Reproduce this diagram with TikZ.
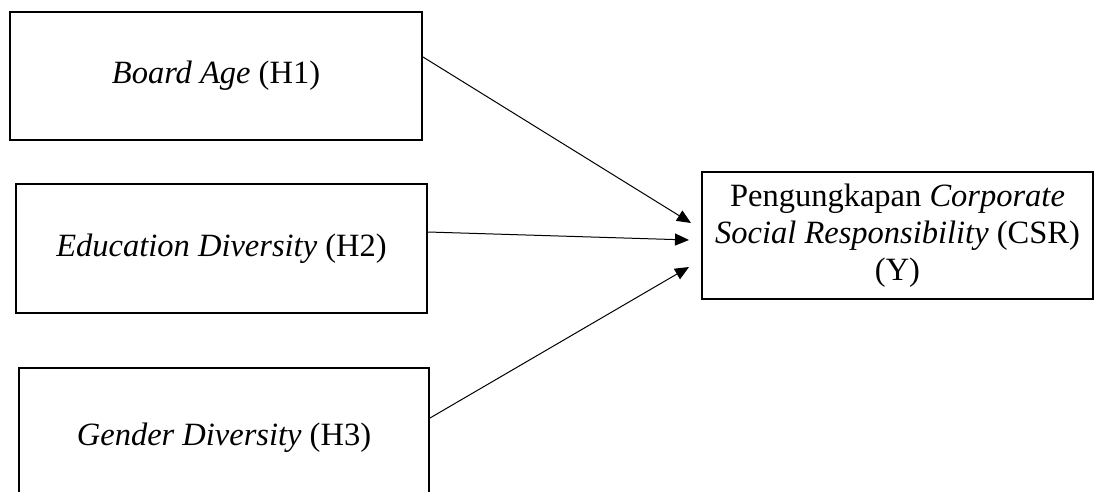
\documentclass[tikz,border=0pt]{standalone}
\usepackage{fontspec}
\setmainfont{Liberation Serif}
\usetikzlibrary{arrows.meta}
\begin{document}
\begin{tikzpicture}[x=1pt,y=-1pt,
  box/.style={draw=black,line width=2pt,inner sep=0pt,align=center,
    font=\fontsize{32.5}{37}\selectfont},
  link/.style={line width=1pt,-{Triangle[length=14pt,width=12pt]}}]
\useasboundingbox (0,0) rectangle (1106,492);
\node[box,minimum width=412pt,minimum height=128pt] (b1) at (216,76) {\textit{Board Age} (H1)};
\node[box,minimum width=411pt,minimum height=129pt] (b2) at (221.5,248.5) {\textit{Education Diversity} (H2)};
\node[box,minimum width=410pt,minimum height=140pt] (b3) at (224,438) {\textit{Gender Diversity} (H3)};
\node[box,minimum width=391pt,minimum height=127pt] (y) at (897.5,235.5) {Pengungkapan \textit{Corporate}\\\textit{Social Responsibility} (CSR)\\(Y)};
\coordinate (t1) at ([xshift=-10pt,yshift=12.5pt]y.west);
\coordinate (t2) at ([xshift=-12pt,yshift=-4.5pt]y.west);
\coordinate (t3) at ([xshift=-12pt,yshift=-31.5pt]y.west);
\draw[link] ([yshift=19pt]b1.east) -- (t1);
\draw[link] ([yshift=16.5pt]b2.east) -- (t2);
\draw[link] ([yshift=20pt]b3.east) -- (t3);
\end{tikzpicture}
\end{document}
